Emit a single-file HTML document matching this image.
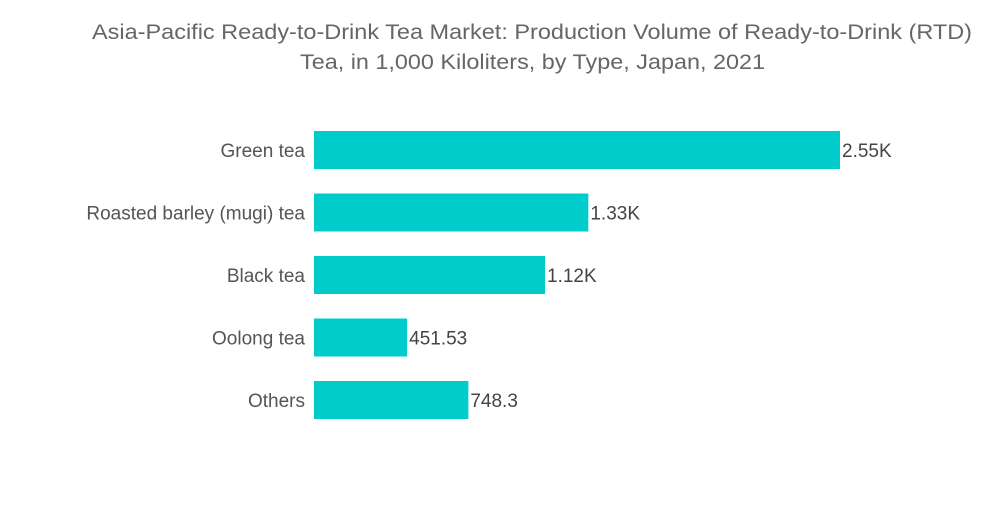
<!DOCTYPE html>
<html><head><meta charset="utf-8">
<style>
body{margin:0;background:#fff;width:1000px;height:504px;overflow:hidden;font-family:"Liberation Sans",sans-serif;}
</style></head>
<body>
<svg id="chart" width="1000" height="504" xmlns="http://www.w3.org/2000/svg">
<text x="92" y="39" textLength="880" lengthAdjust="spacingAndGlyphs" font-size="21" fill="#666">Asia-Pacific Ready-to-Drink Tea Market: Production Volume of Ready-to-Drink (RTD)</text>
<text x="300" y="69" textLength="465" lengthAdjust="spacingAndGlyphs" font-size="21" fill="#666">Tea, in 1,000 Kiloliters, by Type, Japan, 2021</text>
<g id="bars"></g>
</svg>
<script>
const categories = ["Green tea","Roasted barley (mugi) tea","Black tea","Oolong tea","Others"];
const values = [2550, 1330, 1120, 451.53, 748.3];
const valueLabels = ["2.55K","1.33K","1.12K","451.53","748.3"];

const x0 = 314, xScale = v => x0 + v * (526 / 2550);
const rowY = i => 150 + i * 62.5;
const barH = 38;
const g = document.getElementById('bars');
const NS = "http://www.w3.org/2000/svg";
categories.forEach((c, i) => {
  const cy = rowY(i);
  const r = document.createElementNS(NS, 'rect');
  
  
  r.setAttribute('x', x0);
  r.setAttribute('y', cy - barH / 2);
  r.setAttribute('width', xScale(values[i]) - x0);
  r.setAttribute('height', barH);
  r.setAttribute('fill', '#00cccc');
  g.appendChild(r);
  const t = document.createElementNS(NS, 'text');
  
  
  t.setAttribute('x', 305);
  t.setAttribute('y', cy + 7);
  t.setAttribute('text-anchor', 'end');
  t.setAttribute('font-size', '19');
  t.setAttribute('fill', '#555');
  t.textContent = c;
  g.appendChild(t);
  const v = document.createElementNS(NS, 'text');
  
  
  v.setAttribute('x', xScale(values[i]) + 2);
  v.setAttribute('y', cy + 7);
  v.setAttribute('font-size', '19');
  v.setAttribute('fill', '#444');
  v.textContent = valueLabels[i];
  g.appendChild(v);
});
</script>
</body></html>
